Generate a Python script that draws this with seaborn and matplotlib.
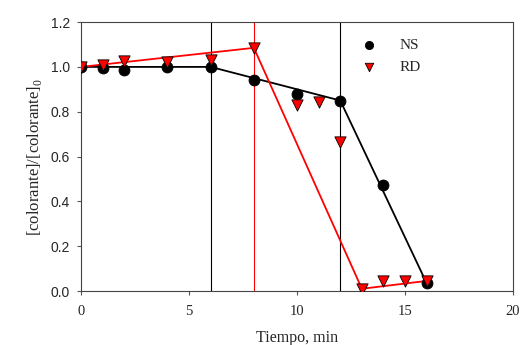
import numpy as np
import pandas as pd
import seaborn as sns
import matplotlib.pyplot as plt

# measured points
t_ns = [0, 1, 2, 4, 6, 8, 10, 12, 14, 16]
c_ns = [1.0, 0.995, 0.985, 1.0, 1.0, 0.94, 0.88, 0.85, 0.475, 0.035]
t_rd = [0, 1, 2, 4, 6, 8, 10, 11, 12, 13, 14, 15, 16]
c_rd = [1.0, 1.01, 1.025, 1.02, 1.03, 1.085, 0.83, 0.845, 0.665, 0.01, 0.045, 0.045, 0.045]

# piecewise fit breakpoints
fit_t_ns = [0, 6, 12, 16]
fit_c_ns = [1.0, 1.0, 0.85, 0.035]
fit_t_rd = [0, 8, 13, 16]
fit_c_rd = [1.0, 1.085, 0.01, 0.045]

vlines_black = [6, 12]
vlines_red = [8]

xticks = [0, 5, 10, 15, 20]
yticks = [0.0, 0.2, 0.4, 0.6, 0.8, 1.0, 1.2]

sns.set_style("ticks")
plt.rcParams['font.family'] = ['Liberation Serif', 'DejaVu Serif']
plt.rcParams['mathtext.fontset'] = 'custom'
plt.rcParams['mathtext.rm'] = 'Liberation Serif'

fig = plt.figure(figsize=(5.23, 3.45), dpi=100)
ax = fig.add_axes([0.155, 0.1565, 0.826, 0.7795])

for x in vlines_black:
    ax.axvline(x, color='black', lw=0.8, zorder=1)
for x in vlines_red:
    ax.axvline(x, color='red', lw=0.8, zorder=1)

df_fit_ns = pd.DataFrame({'t': fit_t_ns, 'c': fit_c_ns})
df_fit_rd = pd.DataFrame({'t': fit_t_rd, 'c': fit_c_rd})
sns.lineplot(data=df_fit_ns, x='t', y='c', color='black', lw=1.3, ax=ax, sort=False, zorder=2)
sns.lineplot(data=df_fit_rd, x='t', y='c', color='red', lw=1.3, ax=ax, sort=False, zorder=2)

df_ns = pd.DataFrame({'t': t_ns, 'c': c_ns})
df_rd = pd.DataFrame({'t': t_rd, 'c': c_rd})
sns.scatterplot(data=df_ns, x='t', y='c', color='black', marker='o', s=62,
                edgecolor='black', linewidth=0.6, ax=ax, zorder=3, label='NS')
sns.scatterplot(data=df_rd, x='t', y='c', color='red', marker='v', s=66,
                edgecolor='black', linewidth=0.6, ax=ax, zorder=4, label='RD')

ax.set_xlim(0, 20)
ax.set_ylim(0, 1.2)
ax.set_xticks(xticks)
ax.set_yticks(yticks)
ax.set_yticklabels([f'{v:.1f}' for v in yticks], family='Liberation Sans', fontsize=10)
ax.set_xticklabels([str(v) for v in xticks], fontsize=10.5)
ax.tick_params(direction='out', length=3, width=0.8, color='#555555')
ax.tick_params(axis='x', pad=7)
ax.tick_params(axis='y', pad=5)
for s in ax.spines.values():
    s.set_linewidth(0.8)
    s.set_color('#444444')

ax.set_xlabel('Tiempo, min', fontsize=11.5, labelpad=9)
ax.set_ylabel('[colorante]/[colorante]$_0$', fontsize=12, labelpad=5)

ax.legend(loc='upper left', bbox_to_anchor=(0.63, 0.94), frameon=False, fontsize=11,
          markerscale=0.75, handletextpad=1.0, labelspacing=0.55, borderaxespad=0,
          borderpad=0)

fig.savefig('out.png', dpi=100)
